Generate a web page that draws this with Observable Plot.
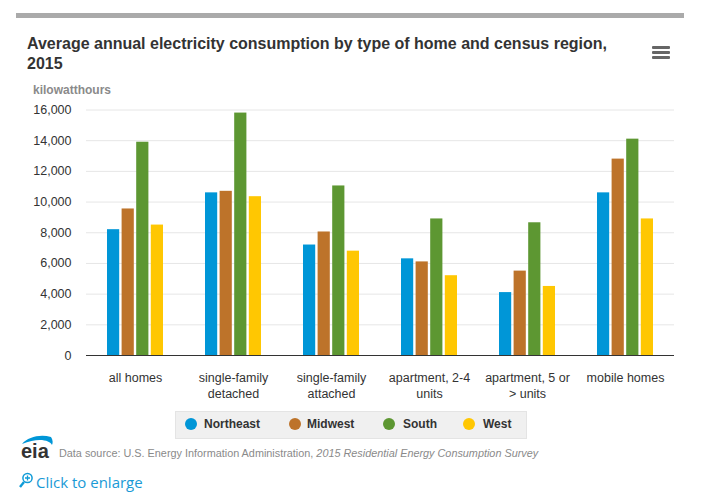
<!DOCTYPE html>
<html><head><meta charset="utf-8">
<script src="https://cdn.jsdelivr.net/npm/d3@7"></script>
<script src="https://cdn.jsdelivr.net/npm/@observablehq/plot@0.6"></script>
<style>
html,body{margin:0;padding:0;background:#fff}
body{width:713px;height:501px;position:relative;overflow:hidden;font-family:"Liberation Sans",Arial,sans-serif}
.abs{position:absolute;white-space:nowrap}
#chart{position:absolute;left:0;top:95px}
#chart svg{display:block}
</style></head><body>
<div class="abs" style="left:16px;top:13px;width:668px;height:5px;background:#aaaaaa"></div>
<div class="abs" style="left:27px;top:34px;font-size:16px;line-height:20px;font-weight:bold;color:#333">Average annual electricity consumption by type of home and census region,<br>2015</div>
<div class="abs" style="left:652px;top:46px;width:18px;height:3px;background:#666;border-radius:1px;box-shadow:0 5px 0 #666,0 10px 0 #666"></div>
<div class="abs" style="left:33px;top:83px;font-size:12px;font-weight:bold;color:#8a8a8a">kilowatthours</div>
<div id="chart"></div>
<div id="legend" class="abs" style="left:175px;top:411px;width:350px;height:26px;background:#f0f0f0;border:1px solid #e4e4e4"></div>
<svg class="abs" style="left:20px;top:432px;overflow:visible" width="36" height="32"><path d="M2 12 C8 5 20 2 31 5 C33 8 33 11 32 13 C30 8 18 5 2 12Z" fill="#0096d7"/><text x="1" y="26" font-family="Liberation Sans" font-size="20" font-weight="bold" fill="#333">eia</text></svg>
<div class="abs" style="left:59px;top:447px;font-size:10.85px;color:#8a8a8a">Data source: U.S. Energy Information Administration, <i>2015 Residential Energy Consumption Survey</i></div>
<svg class="abs" style="left:18px;top:472px" width="16" height="18"><circle cx="9.5" cy="6" r="4.6" fill="none" stroke="#0f9bd7" stroke-width="1.5"/><path d="M9.5 3.5v5M7 6h5" stroke="#0f9bd7" stroke-width="1.3"/><path d="M6 10 L2 15" stroke="#0f9bd7" stroke-width="2.4"/></svg>
<div class="abs" style="left:36px;top:472px;font-family:'Open Sans',sans-serif;font-size:15px;color:#1a9ad6">Click to enlarge</div>
<script>
const categories = ["all homes","single-family detached","single-family attached","apartment, 2-4 units","apartment, 5 or > units","mobile homes"];
const tickLabels = ["all homes","single-family\ndetached","single-family\nattached","apartment, 2-4\nunits","apartment, 5 or\n> units","mobile homes"];
const regions = ["Northeast","Midwest","South","West"];
const colors = ["#0096d7","#bd732a","#5d9732","#ffc702"];
const northeast = [8200,10600,7200,6300,4100,10600];
const midwest = [9550,10700,8050,6100,5500,12800];
const south = [13900,15800,11050,8900,8650,14100];
const west = [8500,10350,6800,5200,4500,8900];
const yTicks = [0,2000,4000,6000,8000,10000,12000,14000,16000];
const series = [northeast,midwest,south,west];
const fmt = d3.format(",");
const bandW = 98, barW = 12.2, barStep = 14.6, start = 21;
const barMarks = regions.map((r,i)=>Plot.barY(categories.map((c,j)=>({category:c,region:r,value:series[i][j]})),{
  x:"category", y:"value", fill:colors[i], title:"region",
  insetLeft:start+i*barStep, insetRight:bandW-(start+i*barStep)-barW
}));
const plot = Plot.plot({
  width:713, height:310,
  marginLeft:86, marginRight:39, marginTop:14.5, marginBottom:50,
  style:{fontFamily:"Liberation Sans, Arial, sans-serif",fontSize:"12.5px",color:"#333",background:"transparent"},
  x:{domain:categories,padding:0,round:false,label:null,axis:null},
  y:{domain:[0,16000],label:null,axis:null},
  marks:[
    Plot.gridY(yTicks.slice(1),{stroke:"#e6e6e6",strokeOpacity:1}),
    Plot.axisY(yTicks,{tickSize:0,tickPadding:15,tickFormat:fmt,fontSize:12.5,fill:"#333",label:null,marginLeft:86}),
    Plot.axisX({tickSize:0,tickPadding:15,fontSize:12.5,fill:"#333",label:null,lineHeight:1.28,tickFormat:d=>tickLabels[categories.indexOf(d)]}),
    ...barMarks,
    Plot.ruleY([0],{stroke:"#333",strokeWidth:1})
  ]
});
document.getElementById("chart").appendChild(plot);
const lg=document.getElementById("legend");
const dotX=[9,113,207,287], txtX=[28,131,227,307];
regions.forEach((r,i)=>{
  lg.insertAdjacentHTML("beforeend",`<span class="abs" style="left:${dotX[i]}px;top:6px;width:12px;height:12px;border-radius:50%;background:${colors[i]}"></span><span class="abs" style="left:${txtX[i]}px;top:5px;font-size:12px;font-weight:bold;color:#333">${r}</span>`);
});
</script>
</body></html>
